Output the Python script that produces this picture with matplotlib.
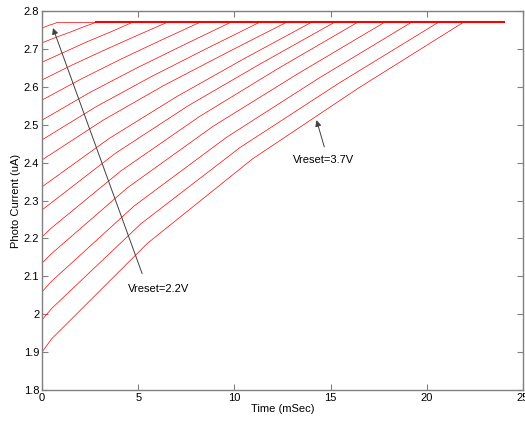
import matplotlib
matplotlib.use('Agg')
import matplotlib.pyplot as plt
from matplotlib.ticker import FormatStrFormatter, MultipleLocator

plt.rcParams['font.family'] = ['Liberation Sans', 'DejaVu Sans']

# photo current traces, one per reset voltage (top curve = 2.2V, bottom = 3.7V)
# knot times (mSec) and values (uA); each trace ends on the saturation level
t_traces = [
    [0, 0.2, 0.4, 0.6, 0.8],
    [0, 0.7, 1.4, 2.1, 2.8],
    [0, 1.18, 2.35, 3.53, 4.7],
    [0, 1.63, 3.25, 4.88, 6.5],
    [0, 2.05, 4.1, 6.15, 8.2],
    [0, 2.45, 4.9, 7.35, 9.8],
    [0, 2.83, 5.65, 8.48, 11.3],
    [0, 3.18, 6.35, 9.53, 12.7],
    [0, 3.5, 7.0, 10.5, 14.0],
    [0, 3.8, 7.6, 11.4, 15.2],
    [0, 0.5, 4.1, 8.2, 12.3, 16.4],
    [0, 0.5, 4.45, 8.9, 13.35, 17.8],
    [0, 0.5, 4.8, 9.6, 14.4, 19.2],
    [0, 0.5, 5.15, 10.3, 15.45, 20.6],
    [0, 0.5, 5.48, 10.95, 16.43, 21.9],
]
i_traces = [
    [2.755, 2.759, 2.763, 2.766, 2.770],
    [2.716, 2.730, 2.743, 2.757, 2.770],
    [2.665, 2.692, 2.719, 2.744, 2.770],
    [2.618, 2.659, 2.697, 2.734, 2.770],
    [2.565, 2.621, 2.673, 2.722, 2.770],
    [2.512, 2.584, 2.649, 2.710, 2.770],
    [2.460, 2.548, 2.626, 2.699, 2.770],
    [2.407, 2.512, 2.604, 2.688, 2.770],
    [2.336, 2.464, 2.574, 2.674, 2.770],
    [2.275, 2.424, 2.550, 2.662, 2.770],
    [2.204, 2.228, 2.378, 2.522, 2.649, 2.770],
    [2.135, 2.160, 2.334, 2.496, 2.636, 2.770],
    [2.059, 2.087, 2.286, 2.467, 2.623, 2.770],
    [1.985, 2.015, 2.239, 2.440, 2.610, 2.770],
    [1.900, 1.935, 2.187, 2.410, 2.596, 2.770],
]
t_end = 24.0
i_sat = 2.77

fig = plt.figure(figsize=(5.25, 4.23), dpi=100)
ax = fig.add_axes([0.08, 0.078, 0.916, 0.896])

for t, i in zip(t_traces, i_traces):
    ax.plot(t + [t_end], i + [i_sat], color='#ff0000', lw=0.5)
# saturated part is a thick noisy band in the original
ax.plot([t_traces[1][-1], t_end], [i_sat, i_sat], color='#ff0000', lw=1.5)

ax.annotate('Vreset=2.2V', xy=(0.57, 2.755), xytext=(4.45, 2.066),
            fontsize=8, va='center', ha='left',
            arrowprops=dict(arrowstyle='-|>', color='#404040', lw=0.7,
                            mutation_scale=9, shrinkA=6, shrinkB=0,
                            relpos=(0.3, 1.0)))
ax.annotate('Vreset=3.7V', xy=(14.27, 2.512), xytext=(13.05, 2.407),
            fontsize=8, va='center', ha='left',
            arrowprops=dict(arrowstyle='-|>', color='#404040', lw=0.7,
                            mutation_scale=9, shrinkA=4, shrinkB=0,
                            relpos=(0.55, 1.0)))

ax.set_xlim(0, 25)
ax.set_ylim(1.8, 2.8)
ax.xaxis.set_major_locator(MultipleLocator(5))
ax.yaxis.set_major_locator(MultipleLocator(0.1))
ax.yaxis.set_major_formatter(FormatStrFormatter('%g'))
ax.tick_params(direction='in', top=True, right=True, labelsize=8,
               length=4, color='#808080', pad=2)
for s in ax.spines.values():
    s.set_color('#808080')
    s.set_linewidth(1.0)
ax.set_xlabel('Time (mSec)', fontsize=8, labelpad=1)
ax.set_ylabel('Photo Current (uA)', fontsize=8, labelpad=2)

fig.savefig('out.png', dpi=100)
